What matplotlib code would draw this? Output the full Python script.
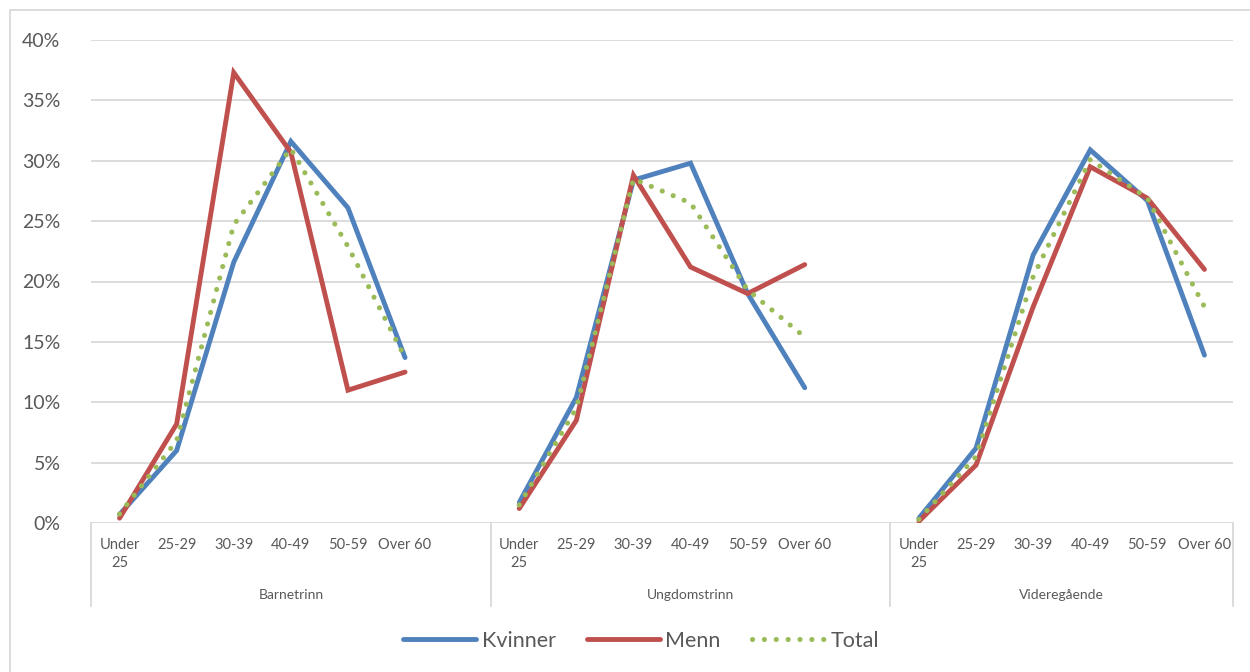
import numpy as np
import matplotlib
matplotlib.use("Agg")
import matplotlib.pyplot as plt
from matplotlib.patches import Rectangle
from matplotlib.ticker import PercentFormatter
import matplotlib.transforms as mtransforms

plt.rcParams['font.family'] = ['Lato', 'DejaVu Sans']

# age bands repeated in each school level
ages = ["Under\n25", "25-29", "30-39", "40-49", "50-59", "Over 60"]
levels = ["Barnetrinn", "Ungdomstrinn", "Videregående"]

# share of teachers per age band (%), one list per school level
kvinner = [
    [0.7, 6.0, 21.6, 31.6, 26.1, 13.7],
    [1.7, 10.4, 28.4, 29.8, 19.0, 11.2],
    [0.4, 6.2, 22.2, 30.9, 26.7, 13.9],
]
menn = [
    [0.4, 8.2, 37.3, 30.7, 11.0, 12.5],
    [1.2, 8.5, 28.8, 21.2, 19.0, 21.4],
    [0.15, 4.8, 17.9, 29.5, 26.9, 21.0],
]
total = [
    [0.75, 6.8, 24.7, 31.0, 22.9, 13.7],
    [1.5, 9.5, 28.5, 26.5, 19.3, 15.4],
    [0.3, 5.5, 20.4, 30.1, 26.9, 17.9],
]

BLUE = "#4F81BD"
RED = "#C0504D"
GREEN = "#9BBB59"
GRID = "#D9D9D9"
TXT = "#595959"


def flatten(groups):
    # one blank slot between levels so the lines break
    out = []
    for i, g in enumerate(groups):
        out += g
        if i < len(groups) - 1:
            out.append(np.nan)
    return np.array(out)


fig = plt.figure(figsize=(12.5, 6.72), dpi=100)
ax = fig.add_axes([91 / 1250, 1 - 523 / 672, (1233 - 91) / 1250, (523 - 40) / 672])

x = np.arange(len(flatten(kvinner)))
ax.plot(x, flatten(kvinner), color=BLUE, lw=3.5, solid_capstyle="round",
        solid_joinstyle="miter", label="Kvinner", zorder=3)
ax.plot(x, flatten(menn), color=RED, lw=3.5, solid_capstyle="round",
        solid_joinstyle="miter", label="Menn", zorder=4)
ax.plot(x, flatten(total), color=GREEN, lw=3.7, linestyle=(0, (0.01, 2.3)),
        dash_capstyle="round", label="Total", zorder=5)

ax.set_xlim(-0.5, len(x) - 0.5)
ax.set_ylim(0, 40)
ax.set_yticks(np.arange(0, 41, 5))
ax.yaxis.set_major_formatter(PercentFormatter(decimals=0))
ax.set_xticks([])
ax.grid(axis="y", color=GRID, lw=1.3)
ax.set_axisbelow(True)
for s in ax.spines.values():
    s.set_visible(False)
ax.tick_params(axis="y", length=0, pad=22, labelsize=14, labelcolor=TXT)

# multi-level category axis
trans = mtransforms.blended_transform_factory(ax.transData, ax.transAxes)
bounds = [-0.5]
pos = 0
for gi, lev in enumerate(levels):
    for ai, a in enumerate(ages):
        ax.text(pos + ai, -0.031, a, transform=trans, ha="center", va="top",
                fontsize=10.5, color=TXT, linespacing=1.35)
    end = pos + len(ages) + (0.5 if gi < len(levels) - 1 else -0.5)
    ax.text((bounds[-1] + end) / 2, -0.149, lev, transform=trans,
            ha="center", va="center", fontsize=10, color=TXT)
    bounds.append(end)
    pos += len(ages) + 1
for b in bounds:
    ax.plot([b, b], [0, -0.172], transform=trans, color=GRID, lw=1.3,
            clip_on=False)

fig.legend(loc="center", bbox_to_anchor=(641 / 1250, 1 - 641 / 672), ncol=3,
           frameon=False, fontsize=15.5, handlelength=3.4, handletextpad=0.25,
           columnspacing=1.45, labelcolor=TXT)

fig.patches.append(Rectangle((10 / 1250, -0.05), 1.2, 1 - 10 / 672 + 0.05,
                             transform=fig.transFigure, fill=False,
                             edgecolor=GRID, lw=1.3))

fig.savefig("out.png", dpi=100)
